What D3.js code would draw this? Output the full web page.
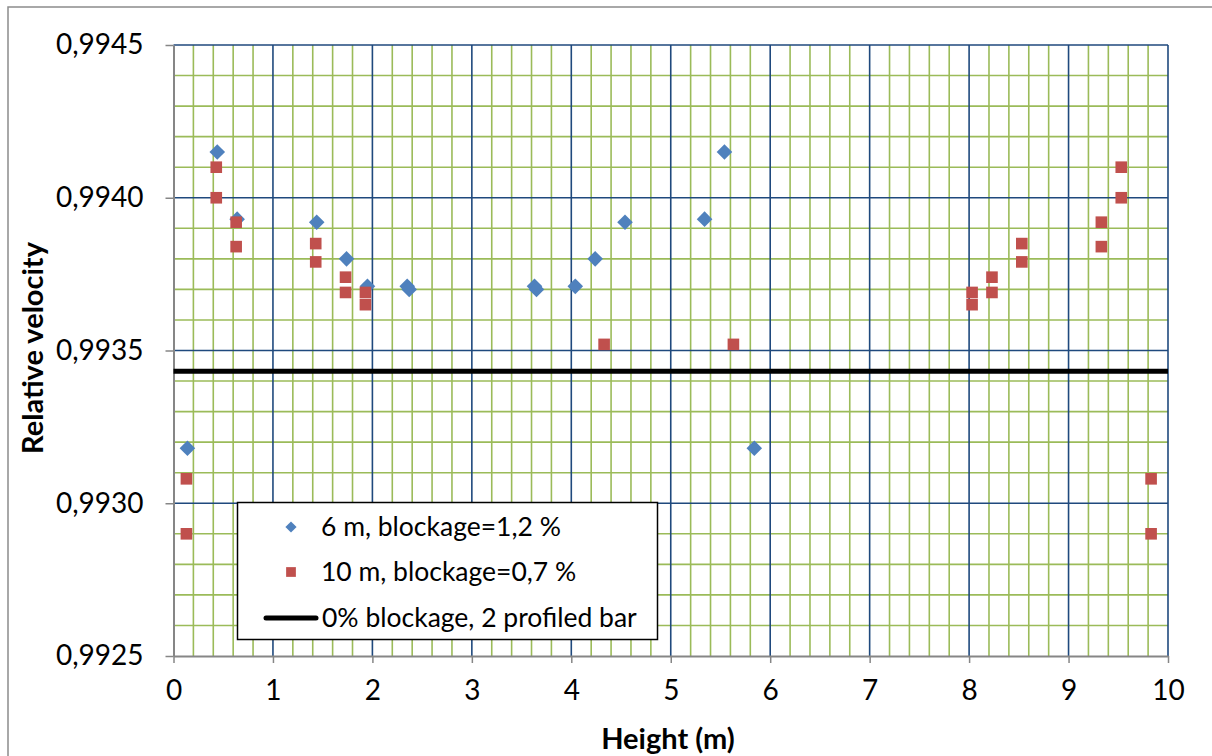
<!DOCTYPE html>
<html>
<head>
<meta charset="utf-8">
<script src="https://cdn.jsdelivr.net/npm/d3@7"></script>
<style>
  html, body { margin: 0; padding: 0; background: #fff; }
  svg { display: block; }
  text { font-family: Lato, "Open Sans", sans-serif; fill: #000; }
</style>
</head>
<body>
<svg id="chart" width="1212" height="756"></svg>
<script>
// ---- data ----
const xTicks = [0, 1, 2, 3, 4, 5, 6, 7, 8, 9, 10];
const yTicks = [0.9925, 0.9930, 0.9935, 0.9940, 0.9945];
const yTickLabels = ["0,9925", "0,9930", "0,9935", "0,9940", "0,9945"];

const series1Name = "6 m, blockage=1,2 %";
const series1X = [0.14, 0.44, 0.64, 1.44, 1.74, 1.95, 2.35, 2.37, 3.63, 3.65, 4.04, 4.24, 4.54, 5.34, 5.54, 5.84];
const series1Y = [0.99318, 0.99415, 0.99393, 0.99392, 0.99380, 0.99371, 0.99371, 0.99370, 0.99371, 0.99370, 0.99371, 0.99380, 0.99392, 0.99393, 0.99415, 0.99318];

const series2Name = "10 m, blockage=0,7 %";
const series2X = [0.13, 0.13, 0.43, 0.43, 0.63, 0.63, 1.43, 1.43, 1.73, 1.73, 1.93, 1.93, 4.33, 5.63, 8.03, 8.03, 8.23, 8.23, 8.53, 8.53, 9.33, 9.33, 9.53, 9.53, 9.83, 9.83];
const series2Y = [0.99308, 0.99290, 0.99410, 0.99400, 0.99392, 0.99384, 0.99385, 0.99379, 0.99374, 0.99369, 0.99369, 0.99365, 0.99352, 0.99352, 0.99369, 0.99365, 0.99374, 0.99369, 0.99385, 0.99379, 0.99392, 0.99384, 0.99410, 0.99400, 0.99308, 0.99290];

const refName = "0% blockage, 2 profiled bar";
const refX = [0, 10];
const refY = [0.993432, 0.993432];

const xTitle = "Height (m)";
const yTitle = "Relative velocity";

// ---- layout ----
const svg = d3.select("#chart");
const x = d3.scaleLinear().domain([0, 10]).range([173.5, 1168]);
const y = d3.scaleLinear().domain([0.9925, 0.9945]).range([656, 45]);

const blue = "#1F497D", green = "#9BBB59", grey = "#868686";

// outer chart border (only top & left visible)
svg.append("rect").attr("x", 8).attr("y", 7).attr("width", 1300).attr("height", 900)
  .attr("fill", "none").attr("stroke", "#8c8c8c").attr("stroke-width", 1.5);

const g = svg.append("g");

// minor gridlines
const xMinor = d3.range(0, 10.001, 0.2).filter(v => Math.abs(v - Math.round(v)) > 1e-6);
const yMinor = d3.range(0.9925, 0.99451, 0.0001).filter(v => !yTicks.some(t => Math.abs(t - v) < 1e-7));
g.selectAll(".xminor").data(xMinor).join("line")
  .attr("x1", d => x(d)).attr("x2", d => x(d)).attr("y1", y(0.9945)).attr("y2", y(0.9925))
  .attr("stroke", green).attr("stroke-width", 1.6);
g.selectAll(".yminor").data(yMinor).join("line")
  .attr("y1", d => y(d)).attr("y2", d => y(d)).attr("x1", x(0)).attr("x2", x(10))
  .attr("stroke", green).attr("stroke-width", 1.6);

// major gridlines
g.selectAll(".xmajor").data(xTicks.filter(d => d > 0)).join("line")
  .attr("x1", d => x(d)).attr("x2", d => x(d)).attr("y1", y(0.9945)).attr("y2", y(0.9925))
  .attr("stroke", blue).attr("stroke-width", 1.6);
g.selectAll(".ymajor").data(yTicks.filter(d => d > 0.9925)).join("line")
  .attr("y1", d => y(d)).attr("y2", d => y(d)).attr("x1", x(0)).attr("x2", x(10))
  .attr("stroke", blue).attr("stroke-width", 1.6);

// axes
const xAxis = d3.axisBottom(x).tickValues(xTicks).tickSize(7).tickSizeOuter(0).tickPadding(17)
  .tickFormat(d3.format("d"));
const gx = svg.append("g").attr("transform", `translate(0,${y(0.9925)})`).call(xAxis);
gx.select(".domain").attr("stroke", grey).attr("stroke-width", 2);
gx.selectAll(".tick line").attr("stroke", grey).attr("stroke-width", 1.5);
gx.selectAll(".tick text").attr("font-size", 28).attr("font-family", "Lato, sans-serif").attr("fill", "#000");

const yAxis = d3.axisLeft(y).tickValues(yTicks).tickSize(8).tickSizeOuter(0).tickPadding(22)
  .tickFormat((d, i) => yTickLabels[i]);
const gy = svg.append("g").attr("transform", `translate(${x(0)},0)`).call(yAxis);
gy.select(".domain").attr("stroke", grey).attr("stroke-width", 2);
gy.selectAll(".tick line").attr("stroke", grey).attr("stroke-width", 1.5);
gy.selectAll(".tick text").attr("font-size", 28).attr("font-family", "Lato, sans-serif").attr("fill", "#000");

// reference line
svg.append("path")
  .datum(refX.map((d, i) => [d, refY[i]]))
  .attr("d", d3.line().x(d => x(d[0])).y(d => y(d[1])))
  .attr("stroke", "#000").attr("stroke-width", 5).attr("fill", "none");

// series
const diamond = d3.symbol().type(d3.symbolDiamond2).size(155);
const square = d3.symbol().type(d3.symbolSquare).size(135);
svg.append("g").selectAll("path").data(series1X.map((d, i) => [d, series1Y[i]])).join("path")
  .attr("d", diamond).attr("transform", d => `translate(${x(d[0])},${y(d[1])})`)
  .attr("fill", "#4F81BD");
svg.append("g").selectAll("path").data(series2X.map((d, i) => [d, series2Y[i]])).join("path")
  .attr("d", square).attr("transform", d => `translate(${x(d[0])},${y(d[1])})`)
  .attr("fill", "#C0504D");

// legend
const lg = svg.append("g");
lg.append("rect").attr("x", 237.5).attr("y", 502.5).attr("width", 420).attr("height", 137)
  .attr("fill", "#fff").attr("stroke", "#000").attr("stroke-width", 1.5);
lg.append("path").attr("d", d3.symbol().type(d3.symbolDiamond2).size(80))
  .attr("transform", "translate(291,527)").attr("fill", "#4F81BD");
lg.append("path").attr("d", d3.symbol().type(d3.symbolSquare).size(95))
  .attr("transform", "translate(291,572)").attr("fill", "#C0504D");
lg.append("line").attr("x1", 266).attr("x2", 316).attr("y1", 618).attr("y2", 618)
  .attr("stroke", "#000").attr("stroke-width", 5).attr("stroke-linecap", "round");
const legTexts = [[series1Name, 321, 527], [series2Name, 321, 572], [refName, 322, 618]];
lg.selectAll("text").data(legTexts).join("text")
  .attr("x", d => d[1]).attr("y", d => d[2]).attr("dy", "0.35em")
  .attr("font-size", 26.5).text(d => d[0]);

// axis titles
svg.append("text").attr("x", 668).attr("y", 739).attr("dy", "0.35em")
  .attr("text-anchor", "middle").attr("font-weight", "bold").attr("font-size", 29)
  .text(xTitle);
svg.append("text").attr("transform", "translate(33,348) rotate(-90)").attr("dy", "0.35em")
  .attr("text-anchor", "middle").attr("font-weight", "bold").attr("font-size", 29)
  .text(yTitle);
</script>
</body>
</html>
